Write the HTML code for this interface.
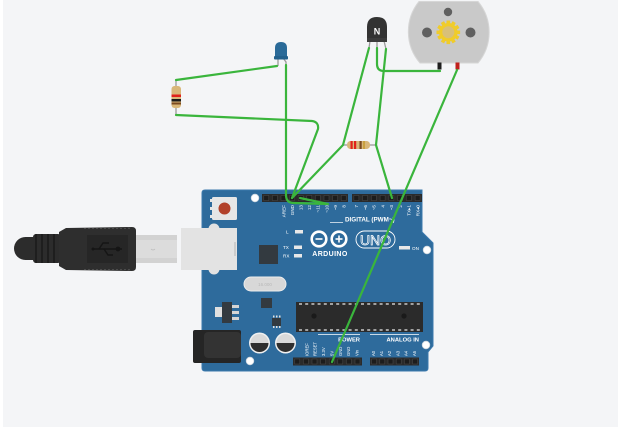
<!DOCTYPE html>
<html><head><meta charset="utf-8"><style>
html,body{margin:0;padding:0;background:#fff;}
svg{display:block;}
text{font-family:"Liberation Sans",sans-serif;}
</style></head><body>
<svg width="618" height="430" viewBox="0 0 618 430" xmlns="http://www.w3.org/2000/svg">
<rect x="0" y="0" width="618" height="430" fill="#ffffff"/>
<rect x="3" y="0" width="615" height="427" fill="#f4f5f7"/>

<!-- USB cable -->
<g>
  <rect x="14" y="237" width="40" height="23" rx="11.5" fill="#2c2c2c"/>
  <rect x="33" y="234" width="28" height="29" rx="3" fill="#2c2c2c"/>
  <g stroke="#151515" stroke-width="1.2">
    <line x1="36" y1="234" x2="36" y2="263"/><line x1="42" y1="234" x2="42" y2="263"/><line x1="48" y1="234" x2="48" y2="263"/><line x1="54" y1="234" x2="54" y2="263"/>
  </g>
  <path d="M59,232 L66,228 L132,227 Q136,227 136,231 L136,267 Q136,271 132,271 L66,270 L59,266 Z" fill="#2e2e2e"/>
  <g stroke="#555" stroke-width="0.8">
    <line x1="84" y1="228.5" x2="130" y2="228.5" stroke-dasharray="2 2"/>
    <line x1="84" y1="269.5" x2="130" y2="269.5" stroke-dasharray="2 2"/>
  </g>
  <rect x="87" y="235" width="41" height="28" fill="#262626"/>
  <g stroke="#151515" stroke-width="1.4" fill="none">
    <line x1="93" y1="249" x2="122" y2="249"/>
    <path d="M99,249 L103,243 L109,243"/>
    <path d="M104,249 L108,255 L113,255"/>
  </g>
  <circle cx="118" cy="249" r="2.4" fill="#151515"/>
  <circle cx="93" cy="249" r="1.5" fill="#151515"/>
  <rect x="136" y="235" width="41" height="28" fill="#d2d2d2"/>
  <rect x="136" y="240" width="41" height="18" fill="#dcdcdc"/>
  <path d="M151,249 q2,2 4,0" stroke="#bbb" fill="none" stroke-width="0.7"/>
</g>

<!-- Arduino board -->
<path d="M205,190 L422,190 L422,232 L433,243 L433,346 L428,352 L428,368 Q428,371 425,371 L205,371 Q202,371 202,368 L202,193 Q202,190 205,190 Z" fill="#2e6b9c" stroke="#3b79ad" stroke-width="1"/>

<!-- USB B port -->
<circle cx="214" cy="229" r="5.5" fill="#e2e2e2"/>
<circle cx="214" cy="269" r="5.5" fill="#e2e2e2"/>
<rect x="181" y="228" width="56" height="42" fill="#e3e3e3"/>
<line x1="235" y1="242" x2="235" y2="256" stroke="#b5b5b5" stroke-width="1"/>

<!-- reset button -->
<rect x="210" y="199" width="3" height="3" fill="#e6e6e6"/>
<rect x="210" y="207" width="3" height="3" fill="#e6e6e6"/>
<rect x="210" y="215" width="3" height="3" fill="#e6e6e6"/>
<rect x="212" y="197" width="25" height="23" rx="1.5" fill="#e6e6e6"/>
<circle cx="224.5" cy="208.5" r="6" fill="#b2412a"/>

<!-- holes -->
<g fill="#ffffff" stroke="#cfd8e0" stroke-width="0.8">
  <circle cx="255" cy="198" r="3.8"/>
  <circle cx="427" cy="250" r="3.8"/>
  <circle cx="426" cy="345" r="3.8"/>
  <circle cx="250" cy="361" r="3.8"/>
</g>

<!-- top headers -->
<rect x="262" y="194" width="86" height="8" fill="#2a2a2a"/>
<rect x="352" y="194" width="70" height="8" fill="#2a2a2a"/>
<g fill="#1c1c1c" stroke="#4a4a4a" stroke-width="0.5">
  <rect x="263.8" y="195.5" width="5" height="5"/><rect x="272.4" y="195.5" width="5" height="5"/><rect x="281" y="195.5" width="5" height="5"/><rect x="289.6" y="195.5" width="5" height="5"/><rect x="298.2" y="195.5" width="5" height="5"/><rect x="306.8" y="195.5" width="5" height="5"/><rect x="315.4" y="195.5" width="5" height="5"/><rect x="324" y="195.5" width="5" height="5"/><rect x="332.6" y="195.5" width="5" height="5"/><rect x="341.2" y="195.5" width="5" height="5"/>
  <rect x="353.9" y="195.5" width="5" height="5"/><rect x="362.6" y="195.5" width="5" height="5"/><rect x="371.4" y="195.5" width="5" height="5"/><rect x="380.1" y="195.5" width="5" height="5"/><rect x="388.9" y="195.5" width="5" height="5"/><rect x="397.6" y="195.5" width="5" height="5"/><rect x="406.4" y="195.5" width="5" height="5"/><rect x="415.1" y="195.5" width="5" height="5"/>
</g>
<g fill="#ffffff" font-size="4.6" text-anchor="end">
  <text transform="translate(285.3,205) rotate(-90)">AREF</text>
  <text transform="translate(293.9,205) rotate(-90)">GND</text>
  <text transform="translate(302.5,205) rotate(-90)">13</text>
  <text transform="translate(311.1,205) rotate(-90)">12</text>
  <text transform="translate(319.7,205) rotate(-90)">~11</text>
  <text transform="translate(328.3,205) rotate(-90)">~10</text>
  <text transform="translate(336.9,205) rotate(-90)">~9</text>
  <text transform="translate(345.5,205) rotate(-90)">8</text>
  <text transform="translate(358.2,205) rotate(-90)">7</text>
  <text transform="translate(366.9,205) rotate(-90)">~6</text>
  <text transform="translate(375.7,205) rotate(-90)">~5</text>
  <text transform="translate(384.4,205) rotate(-90)">4</text>
  <text transform="translate(393.2,205) rotate(-90)">~3</text>
  <text transform="translate(401.9,205) rotate(-90)">2</text>
  <text transform="translate(410.7,205) rotate(-90)">TX▸1</text>
  <text transform="translate(419.4,205) rotate(-90)">RX◂0</text>
</g>
<line x1="330" y1="222.5" x2="343" y2="222.5" stroke="#fff" stroke-width="0.7"/>
<text x="345" y="221.5" fill="#ffffff" font-size="6.3" font-weight="bold">DIGITAL (PWM~)</text>

<!-- L TX RX leds -->
<g fill="#ffffff" font-size="4.6">
  <text x="286" y="233.5">L</text>
  <text x="283" y="249">TX</text>
  <text x="283" y="257.5">RX</text>
  <text x="412" y="250">ON</text>
</g>
<g fill="#e8e8e8">
  <rect x="295" y="230" width="8" height="3.5"/>
  <rect x="294" y="245.5" width="8" height="3.5"/>
  <rect x="294" y="254" width="8" height="3.5"/>
  <rect x="399" y="246" width="11" height="3.5"/>
</g>

<!-- processor square -->
<rect x="259" y="245" width="19" height="19" fill="#333a40"/>

<!-- logo -->
<g fill="none" stroke="#ffffff" stroke-width="2.6">
  <circle cx="319" cy="239" r="7.3"/>
  <circle cx="339" cy="239" r="7.3"/>
</g>
<g stroke="#ffffff" stroke-width="1.6">
  <line x1="315.5" y1="239" x2="322.5" y2="239"/>
  <line x1="335.5" y1="239" x2="342.5" y2="239"/>
  <line x1="339" y1="235.5" x2="339" y2="242.5"/>
</g>
<text x="330" y="256" fill="#ffffff" font-size="7" font-weight="bold" text-anchor="middle" letter-spacing="0.4">ARDUINO</text>
<rect x="356" y="231" width="39" height="17" rx="8.5" fill="none" stroke="#ffffff" stroke-width="0.9"/>
<text x="375.5" y="245" fill="none" stroke="#ffffff" stroke-width="0.7" font-size="14" text-anchor="middle">UNO</text>

<!-- crystal -->
<rect x="244" y="277" width="42" height="14" rx="7" fill="#d8d8d8" stroke="#ececec" stroke-width="1"/>
<text x="265" y="286" fill="#b8b8b8" font-size="4.5" text-anchor="middle">16.000</text>

<!-- small chips -->
<rect x="261" y="298" width="11" height="10" fill="#333a40"/>
<rect x="272" y="318" width="9" height="8" fill="#333a40"/>
<g fill="#e0e0e0">
  <rect x="273" y="315.5" width="1.5" height="2"/><rect x="276" y="315.5" width="1.5" height="2"/><rect x="279" y="315.5" width="1.5" height="2"/>
  <rect x="273" y="326" width="1.5" height="2"/><rect x="276" y="326" width="1.5" height="2"/><rect x="279" y="326" width="1.5" height="2"/>
</g>

<!-- voltage regulator -->
<rect x="215" y="307" width="8" height="10" fill="#e0e0e0"/>
<rect x="222" y="302" width="10" height="21" fill="#333a40"/>
<g fill="#d5d5d5">
  <rect x="232" y="305" width="7" height="3"/><rect x="232" y="311" width="7" height="3"/><rect x="232" y="317" width="7" height="3"/>
</g>

<!-- power jack -->
<rect x="193" y="330" width="48" height="33" rx="2" fill="#252525"/>
<rect x="204" y="332" width="37" height="26" rx="4" fill="#333333"/>

<!-- capacitors -->
<g>
  <circle cx="259.5" cy="343" r="10.5" fill="#f0f0f0"/>
  <path d="M250.5,343 A9,9 0 0 1 268.5,343 Z" fill="#d9d9d9"/>
  <path d="M250.5,343 A9,9 0 0 0 268.5,343 Z" fill="#2f2f2f"/>
  <circle cx="285.5" cy="343" r="10.5" fill="#f0f0f0"/>
  <path d="M276.5,343 A9,9 0 0 1 294.5,343 Z" fill="#d9d9d9"/>
  <path d="M276.5,343 A9,9 0 0 0 294.5,343 Z" fill="#2f2f2f"/>
</g>

<!-- DIP chip -->
<rect x="296" y="302" width="127" height="30" fill="#2b2b2b"/>
<line x1="299" y1="304" x2="421" y2="304" stroke="#e8e8e8" stroke-width="1.2" stroke-dasharray="3 3.2"/>
<line x1="299" y1="330" x2="421" y2="330" stroke="#e8e8e8" stroke-width="1.2" stroke-dasharray="3 3.2"/>
<circle cx="314" cy="316" r="2.6" fill="#1a1a1a"/>
<circle cx="404" cy="316" r="2.6" fill="#1a1a1a"/>

<!-- POWER / ANALOG -->
<line x1="318" y1="334.5" x2="360" y2="334.5" stroke="#fff" stroke-width="0.7"/>
<line x1="370" y1="334.5" x2="419" y2="334.5" stroke="#fff" stroke-width="0.7"/>
<text x="360" y="341.5" fill="#ffffff" font-size="5.8" font-weight="bold" text-anchor="end">POWER</text>
<text x="419" y="341.5" fill="#ffffff" font-size="5.8" font-weight="bold" text-anchor="end">ANALOG IN</text>
<g fill="#ffffff" font-size="4.2">
  <text transform="translate(308.4,356) rotate(-90)">IOREF</text>
  <text transform="translate(316.7,356) rotate(-90)">RESET</text>
  <text transform="translate(325,356) rotate(-90)">3.3V</text>
  <text transform="translate(333.4,356) rotate(-90)">5V</text>
  <text transform="translate(341.8,356) rotate(-90)">GND</text>
  <text transform="translate(350.2,356) rotate(-90)">GND</text>
  <text transform="translate(358.5,356) rotate(-90)">Vin</text>
  <text transform="translate(374.8,356) rotate(-90)">A0</text>
  <text transform="translate(383,356) rotate(-90)">A1</text>
  <text transform="translate(391.2,356) rotate(-90)">A2</text>
  <text transform="translate(399.4,356) rotate(-90)">A3</text>
  <text transform="translate(407.6,356) rotate(-90)">A4</text>
  <text transform="translate(415.8,356) rotate(-90)">A5</text>
</g>
<rect x="293" y="357.5" width="69" height="8" fill="#2a2a2a"/>
<rect x="370" y="357.5" width="49" height="8" fill="#2a2a2a"/>
<g fill="#1c1c1c" stroke="#4a4a4a" stroke-width="0.5">
  <rect x="294.8" y="359" width="5" height="5"/><rect x="303.4" y="359" width="5" height="5"/><rect x="312" y="359" width="5" height="5"/><rect x="320.6" y="359" width="5" height="5"/><rect x="329.2" y="359" width="5" height="5"/><rect x="337.8" y="359" width="5" height="5"/><rect x="346.4" y="359" width="5" height="5"/><rect x="355" y="359" width="5" height="5"/>
  <rect x="371.6" y="359" width="5" height="5"/><rect x="379.8" y="359" width="5" height="5"/><rect x="388" y="359" width="5" height="5"/><rect x="396.2" y="359" width="5" height="5"/><rect x="404.4" y="359" width="5" height="5"/><rect x="412.6" y="359" width="5" height="5"/>
</g>

<!-- Motor -->
<path d="M419,1.5 L478,1.5 A48,48 0 0 1 478,63 L420,63 A48,48 0 0 1 419,1.5 Z" fill="#c9c9c9" stroke="#d6d6d6" stroke-width="1"/>
<circle cx="448" cy="12" r="4.2" fill="#606060"/>
<circle cx="427" cy="32.5" r="5" fill="#606060"/>
<circle cx="470.5" cy="32.5" r="5" fill="#606060"/>
<g transform="translate(448.3,32.3)" fill="#f0cc2a">
  <circle r="9.3"/>
  <rect x="-1.8" y="-11.8" width="3.6" height="4" transform="rotate(0)"/>
  <rect x="-1.8" y="-11.8" width="3.6" height="4" transform="rotate(30)"/>
  <rect x="-1.8" y="-11.8" width="3.6" height="4" transform="rotate(60)"/>
  <rect x="-1.8" y="-11.8" width="3.6" height="4" transform="rotate(90)"/>
  <rect x="-1.8" y="-11.8" width="3.6" height="4" transform="rotate(120)"/>
  <rect x="-1.8" y="-11.8" width="3.6" height="4" transform="rotate(150)"/>
  <rect x="-1.8" y="-11.8" width="3.6" height="4" transform="rotate(180)"/>
  <rect x="-1.8" y="-11.8" width="3.6" height="4" transform="rotate(210)"/>
  <rect x="-1.8" y="-11.8" width="3.6" height="4" transform="rotate(240)"/>
  <rect x="-1.8" y="-11.8" width="3.6" height="4" transform="rotate(270)"/>
  <rect x="-1.8" y="-11.8" width="3.6" height="4" transform="rotate(300)"/>
  <rect x="-1.8" y="-11.8" width="3.6" height="4" transform="rotate(330)"/>
  <circle r="6" fill="#d8c07a"/>
</g>
<rect x="437.5" y="62.5" width="4" height="7" fill="#1e1e1e"/>
<rect x="455.5" y="62.5" width="4" height="7" fill="#c0201c"/>

<!-- Transistor -->
<g stroke="#9a9a9a" stroke-width="1.3">
  <line x1="370" y1="41" x2="369" y2="48"/>
  <line x1="377" y1="41" x2="377" y2="48"/>
  <line x1="384" y1="41" x2="386" y2="49"/>
</g>
<path d="M367,42 L367,27 Q367,17 377,17 Q387,17 387,27 L387,42 Z" fill="#333333"/>
<rect x="367" y="38" width="20" height="4" fill="#3c3c3c"/>
<text x="377" y="34.5" fill="#ffffff" font-size="9" font-weight="bold" text-anchor="middle">N</text>

<!-- LED -->
<g stroke="#9a9a9a" stroke-width="1.3" fill="none">
  <path d="M278,58 L278,66"/>
  <path d="M283,58 L286,62 L286,65"/>
</g>
<path d="M275,59 L275,48 Q275,42 281,42 Q287,42 287,48 L287,59 Z" fill="#2a6a98"/>
<rect x="274" y="56" width="14" height="3.5" rx="1" fill="#22608c"/>

<!-- Resistor 1 -->
<g stroke="#9a9a9a" stroke-width="1.3">
  <line x1="176" y1="79" x2="176" y2="88"/>
  <line x1="176" y1="107" x2="176" y2="115"/>
</g>
<rect x="171.5" y="86" width="9.5" height="22" rx="3" fill="#d9b779"/>
<rect x="171.5" y="94.5" width="9.5" height="2.5" fill="#e0221b"/>
<rect x="171.5" y="99" width="9.5" height="2.5" fill="#1a1a1a"/>
<rect x="171.5" y="102.5" width="9.5" height="2" fill="#7a4a20"/>

<!-- Resistor 2 -->
<g stroke="#9a9a9a" stroke-width="1.3">
  <line x1="343" y1="145" x2="349" y2="145"/>
  <line x1="368" y1="145" x2="376" y2="145"/>
</g>
<rect x="347" y="141" width="23" height="8" rx="3.5" fill="#d9b779"/>
<rect x="350.5" y="141" width="2.2" height="8" fill="#e0221b"/>
<rect x="354" y="141" width="2.2" height="8" fill="#e0221b"/>
<rect x="359.5" y="141" width="2.2" height="8" fill="#7a4a20"/>
<rect x="363" y="141" width="2" height="8" fill="#c9a040"/>

<!-- Wires -->
<g stroke="#3ab53c" stroke-width="2.2" fill="none" stroke-linecap="round" stroke-linejoin="round">
  <path d="M277,66 L176,80"/>
  <path d="M176,115 L312,121 Q319,122 318,129 L292,198"/>
  <path d="M286,65 L286,195 Q286,203 294,203 L328,204 L300,198"/>
  <path d="M369,48 L343,145 L292,198"/>
  <path d="M386,49 L376,145 L392,198"/>
  <path d="M377,48 L377,64 Q377,71 384,71 L440,71"/>
  <path d="M457,70 L332,362"/>
</g>
</svg>
</body></html>
